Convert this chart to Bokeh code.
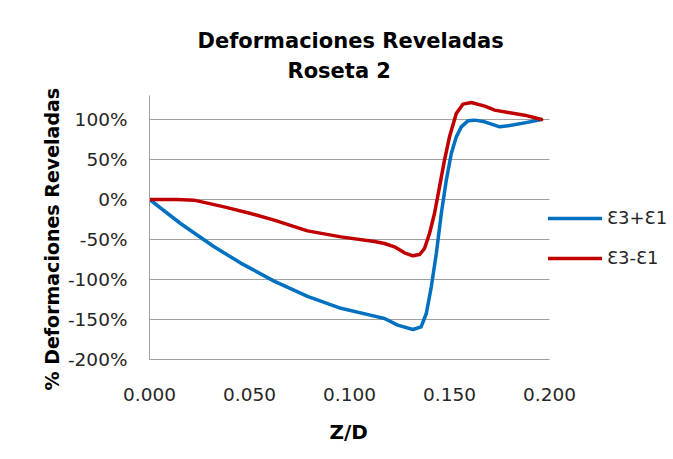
from bokeh.plotting import figure
from bokeh.models import (FixedTicker, PrintfTickFormatter, Range1d, Legend, LegendItem, Title)
from bokeh.embed import file_html
from bokeh.resources import INLINE

# ---- data ----
title_main = "Deformaciones Reveladas"
title_sub = "Roseta 2"
x_title = "Z/D"
y_title = "% Deformaciones Reveladas"
series_names = ["\u01903+\u01901", "\u01903-\u01901"]

x_ticks = [0.0, 0.05, 0.10, 0.15, 0.20]
y_ticks = [-200, -150, -100, -50, 0, 50, 100]

zd_sum = [0.000, 0.0155, 0.0323, 0.0456, 0.0623, 0.0790, 0.0957, 0.1125, 0.1175, 0.1241,
          0.1317, 0.1358, 0.1384, 0.1409, 0.1434, 0.1459, 0.1484, 0.1509, 0.1534, 0.1559,
          0.1592, 0.1626, 0.1676, 0.1751, 0.1793, 0.1876, 0.1960]
eps_sum = [0.0, -30.0, -59.0, -79.5, -102.0, -121.0, -136.0, -145.8, -148.8, -157.1,
           -162.5, -159.2, -142.5, -109.2, -67.5, -17.5, 24.2, 57.5, 78.3, 90.8,
           98.3, 99.2, 97.1, 90.8, 92.1, 95.8, 100.0]

zd_diff = [0.000, 0.0139, 0.0222, 0.0373, 0.0506, 0.0623, 0.0790, 0.0957, 0.1125, 0.1175,
           0.1225, 0.1275, 0.1317, 0.1350, 0.1375, 0.1400, 0.1425, 0.1450, 0.1475, 0.1500,
           0.1534, 0.1567, 0.1609, 0.1676, 0.1726, 0.1793, 0.1876, 0.1960]
eps_diff = [0.0, 0.0, -0.8, -9.2, -17.5, -25.8, -39.2, -46.7, -52.5, -55.0,
            -59.2, -66.7, -70.4, -68.8, -61.3, -42.5, -17.5, 15.8, 49.2, 78.3,
            107.5, 119.2, 121.3, 116.7, 111.7, 108.8, 105.4, 100.0]

x_min, x_max = 0.0, 0.2
y_min, y_max = -200, 130

colors = ["#0070C0", "#C00000"]
grid_gray = "#a0a0a0"
text_gray = "#262626"

W, H = 673, 459
frame_left, frame_data_right = 149, 549
# the frame runs to the right edge so the legend can sit beside the gridded area
x_view_max = x_max * (W - frame_left) / (frame_data_right - frame_left)

p = figure(width=W, height=H, output_backend="svg", toolbar_location=None,
           x_range=Range1d(x_min, x_view_max), y_range=Range1d(y_min, y_max),
           min_border_left=frame_left, min_border_right=0, min_border_top=95,
           min_border_bottom=H - 359)
p.outline_line_color = None
p.background_fill_color = "white"
p.border_fill_color = "white"

# titles (first in the "above" list is the outermost)
p.title = Title(text=title_main, align="left", offset=48, text_font="DejaVu Sans",
                text_font_style="bold", text_font_size="21px", text_color="black",
                vertical_align="bottom", standoff=-9)
p.add_layout(Title(text=title_sub, align="left", offset=138, text_font="DejaVu Sans",
                   text_font_style="bold", text_font_size="21px", text_color="black",
                   vertical_align="top", standoff=21), "above")

# axes
p.xaxis.ticker = FixedTicker(ticks=x_ticks)
p.xaxis.formatter = PrintfTickFormatter(format="%.3f")
p.xaxis.bounds = (x_min, x_max)
p.yaxis.ticker = FixedTicker(ticks=y_ticks)
p.yaxis.formatter = PrintfTickFormatter(format="%d%%")
for ax in (p.xaxis[0], p.yaxis[0]):
    ax.major_tick_out = 0
    ax.major_tick_in = 0
    ax.minor_tick_out = 0
    ax.minor_tick_in = 0
    ax.axis_line_color = grid_gray
    ax.axis_line_width = 1
    ax.major_label_text_font = "DejaVu Sans"
    ax.major_label_text_font_size = "18.5px"
    ax.major_label_text_color = text_gray
p.yaxis.major_label_standoff = 22
p.xaxis.major_label_standoff = 28

p.add_layout(Title(text=x_title, align="left", offset=180, text_font="DejaVu Sans",
                   text_font_style="bold", text_font_size="20px", text_color="black",
                   standoff=28), "below")
p.add_layout(Title(text=y_title, align="left", offset=-31, text_font="DejaVu Sans",
                   text_font_style="bold", text_font_size="19px", text_color="black",
                   standoff=4), "left")

# horizontal gridlines only across the data area
p.xgrid.grid_line_color = None
p.ygrid.grid_line_color = None
p.segment(x0=[x_min] * len(y_ticks), x1=[x_max] * len(y_ticks), y0=y_ticks, y1=y_ticks,
          line_color=grid_gray, line_width=1)

r1 = p.line(zd_sum, eps_sum, line_color=colors[0], line_width=3.5, line_join="round", line_cap="round")
r2 = p.line(zd_diff, eps_diff, line_color=colors[1], line_width=3.5, line_join="round", line_cap="round")

legend = Legend(items=[LegendItem(label=series_names[0], renderers=[r1]),
                       LegendItem(label=series_names[1], renderers=[r2])],
                location=(399, 91), orientation="vertical",
                padding=0, margin=0, spacing=19, glyph_width=54, glyph_height=20,
                label_height=20, label_standoff=5,
                label_text_font="DejaVu Sans", label_text_font_size="18px",
                label_text_color=text_gray,
                border_line_color=None, background_fill_alpha=0)
p.add_layout(legend, "center")

open("out.html", "w").write(file_html(p, INLINE))
